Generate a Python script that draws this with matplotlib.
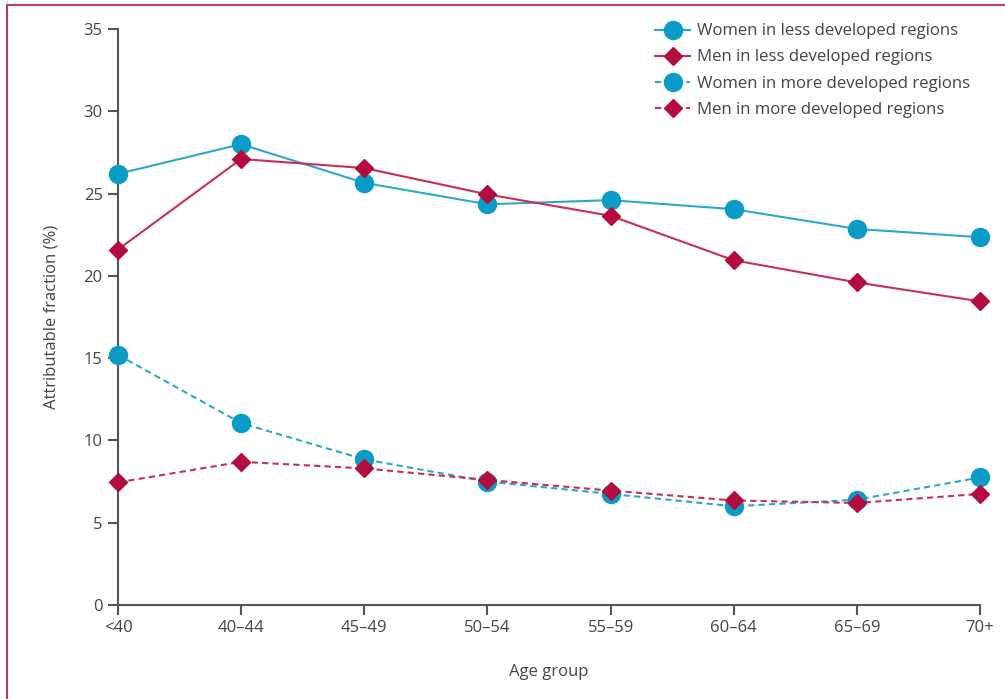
import numpy as np
import matplotlib.pyplot as plt
from matplotlib.patches import Rectangle

ages = ["<40", "40–44", "45–49", "50–54", "55–59", "60–64", "65–69", "70+"]

women_less = [26.2, 28.0, 25.65, 24.35, 24.6, 24.05, 22.85, 22.35]
men_less = [21.6, 27.1, 26.55, 24.95, 23.65, 20.95, 19.6, 18.45]
women_more = [15.2, 11.05, 8.85, 7.5, 6.75, 6.0, 6.4, 7.75]
men_more = [7.45, 8.7, 8.3, 7.6, 6.95, 6.35, 6.2, 6.75]

CYAN = "#0a9cc6"
CYAN_LINE = "#2aa8d0"
RED = "#b30d3e"
RED_LINE = "#c82f55"
GREY = "#555555"

plt.rcParams["font.family"] = ["Open Sans", "DejaVu Sans"]

fig = plt.figure(figsize=(10.05, 6.99), dpi=100)
ax = fig.add_axes([118 / 1005, 1 - 605 / 699, (980 - 118) / 1005, (605 - 29) / 699])

x = np.arange(len(ages))

ax.plot(x, women_less, color=CYAN_LINE, lw=1.5, marker="o", ms=13,
        mfc=CYAN, mec=CYAN, clip_on=False, zorder=3,
        label="Women in less developed regions")
ax.plot(x, men_less, color=RED_LINE, lw=1.5, marker="D", ms=9.5,
        mfc=RED, mec=RED, clip_on=False, zorder=4,
        label="Men in less developed regions")
ax.plot(x, women_more, color=CYAN_LINE, lw=1.5, ls=(0, (3, 2)), marker="o", ms=13,
        mfc=CYAN, mec=CYAN, clip_on=False, zorder=3,
        label="Women in more developed regions")
ax.plot(x, men_more, color=RED_LINE, lw=1.5, ls=(0, (3, 2)), marker="D", ms=9.5,
        mfc=RED, mec=RED, clip_on=False, zorder=4,
        label="Men in more developed regions")

ax.set_xlim(0, len(ages) - 1)
ax.set_ylim(0, 35)
ax.set_xticks(x)
ax.set_xticklabels(ages)
ax.set_yticks(np.arange(0, 36, 5))

for s in ["top", "right"]:
    ax.spines[s].set_visible(False)
for s in ["left", "bottom"]:
    ax.spines[s].set_color(GREY)
    ax.spines[s].set_linewidth(1.5)

ax.tick_params(direction="out", length=7, width=1.5, color=GREY,
               labelcolor="#444444", labelsize=12, pad=4)

ax.set_xlabel("Age group", fontsize=12, color="#444444", labelpad=20)
ax.set_ylabel("Attributable fraction (%)", fontsize=12, color="#444444", labelpad=17)

leg = ax.legend(loc="upper right", bbox_to_anchor=(1.006, 1.036), frameon=False,
                fontsize=12.1, handlelength=2.1, handletextpad=0.4,
                labelspacing=0.6, labelcolor="#444444")

fig.patches.append(Rectangle((7 / 1005, -0.1), 1.2, 1 - 5 / 699 + 0.1,
                             transform=fig.transFigure, fill=False,
                             edgecolor="#c8375d", lw=1.5))

fig.savefig("out.png", dpi=100)
